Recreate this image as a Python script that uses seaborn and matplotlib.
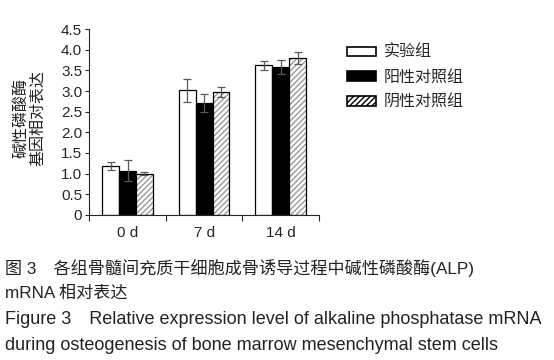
import matplotlib
matplotlib.use("Agg")
import matplotlib.pyplot as plt
import matplotlib.colors as mcolors
from matplotlib.patches import Patch
import seaborn as sns
import pandas as pd

days = ["0 d", "7 d", "14 d"]
groups = ["实验组", "阳性对照组", "阴性对照组"]
means = {
    "实验组": [1.18, 3.02, 3.62],
    "阳性对照组": [1.07, 2.72, 3.58],
    "阴性对照组": [1.00, 2.98, 3.80],
}
sds = {
    "实验组": [0.10, 0.28, 0.10],
    "阳性对照组": [0.25, 0.22, 0.17],
    "阴性对照组": [0.04, 0.12, 0.14],
}
y_ticks = [0, 0.5, 1.0, 1.5, 2.0, 2.5, 3.0, 3.5, 4.0, 4.5]
y_ticklabels = ["0", "0.5", "1.0", "1.5", "2.0", "2.5", "3.0", "3.5", "4.0", "4.5"]

rows = []
for g in groups:
    for d, m, s in zip(days, means[g], sds[g]):
        rows.append({"day": d, "group": g, "value": m, "sd": s})
df = pd.DataFrame(rows)

sns.set_style("ticks")
fonts = ["Liberation Sans", "Noto Sans CJK SC", "DejaVu Sans"]
plt.rcParams["font.family"] = fonts
plt.rcParams["hatch.linewidth"] = 1.0

fig = plt.figure(figsize=(5.54, 3.6), dpi=100)
ax = fig.add_axes([0.161, 0.403, 0.415, 0.516])

palette = {"实验组": "white", "阳性对照组": "black", "阴性对照组": "white"}
sns.barplot(data=df, x="day", y="value", hue="group", order=days,
            hue_order=groups, palette=palette, width=0.66, gap=0,
            errorbar=None, edgecolor="black", linewidth=0.9,
            legend=False, ax=ax)

# bars come out grouped by hue, in day order
bars = [p for p in ax.patches]
for i, g in enumerate(groups):
    sub = bars[i * len(days):(i + 1) * len(days)]
    for p, m, s in zip(sub, means[g], sds[g]):
        if g == "阴性对照组":
            p.set_hatch("//////")
            p._hatch_color = mcolors.to_rgba("0.6")
        xc = p.get_x() + p.get_width() / 2
        ax.errorbar(xc, m, yerr=s, fmt="none", ecolor="0.35",
                    elinewidth=0.9, capsize=3, capthick=0.9, zorder=5)

ax.set_xlim(-0.5, 2.5)
ax.set_ylim(0, 4.5)
ax.set_yticks(y_ticks)
ax.set_yticklabels(y_ticklabels)
ax.set_xticks([-0.5, 0.5, 1.5, 2.5])
ax.set_xticklabels([])
ax.set_xticks([0, 1, 2], minor=True)
ax.set_xticklabels(days, minor=True)
ax.tick_params(axis="x", which="minor", length=0, pad=8, labelsize=11)
ax.tick_params(axis="x", which="major", length=4, width=0.8, direction="out")
ax.tick_params(axis="y", length=3, width=0.8, pad=2, labelsize=11)
ax.set_xlabel("")
ax.set_ylabel("")
sns.despine(ax=ax)
for sp in ["left", "bottom"]:
    ax.spines[sp].set_linewidth(0.8)

fig.text(29.5 / 554, 1 - 118 / 360, "碱性磷酸酶\n基因相对表达", rotation=90,
         ha="center", va="center", multialignment="center",
         fontsize=11.5, linespacing=1.1, color="#222222")

handles = [
    Patch(facecolor="white", edgecolor="black", linewidth=1.2),
    Patch(facecolor="black", edgecolor="black", linewidth=1.2),
    Patch(facecolor="white", edgecolor="black", linewidth=1.2, hatch="//////"),
]
fig.legend(handles, groups, loc="upper left", bbox_to_anchor=(0.6, 0.915),
           frameon=False, fontsize=11.5, handlelength=1.8, handleheight=0.55,
           labelspacing=0.6, handletextpad=0.5)

cn_kw = dict(ha="left", va="center", fontsize=12.3, color="#222222")
en_kw = dict(ha="left", va="center", fontsize=13, color="#222222")
fig.text(5 / 554, 1 - 268 / 360,
         "图 3\u2003各组骨髓间充质干细胞成骨诱导过程中碱性磷酸酶(ALP)", **cn_kw)
fig.text(5 / 554, 1 - 293 / 360, "mRNA 相对表达", **cn_kw)
fig.text(5 / 554, 1 - 319 / 360,
         "Figure 3\u2003Relative expression level of alkaline phosphatase mRNA", **en_kw)
fig.text(5 / 554, 1 - 345 / 360,
         "during osteogenesis of bone marrow mesenchymal stem cells", **en_kw)

fig.savefig("out.png", dpi=100)
